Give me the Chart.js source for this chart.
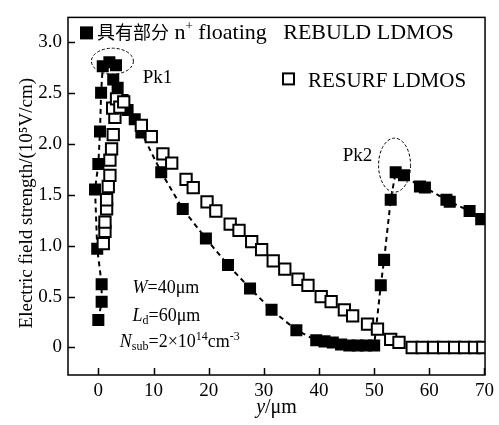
<!DOCTYPE html>
<html>
<head>
<meta charset="utf-8">
<script src="https://cdn.jsdelivr.net/npm/chart.js@4/dist/chart.umd.min.js"></script>
<style>
  html, body { margin: 0; padding: 0; background: #fff; }
</style>
</head>
<body>
<canvas id="fieldChart" width="499" height="425"></canvas>
<script>
// n+ floating REBULD LDMOS (filled squares, dashed line)
const floatX = [0.0, 0.6, 0.6, -0.2, -0.6, 0.0, 0.3, 0.5, 0.8, 2.0, 3.2, 2.7, 3.5, 4.4, 5.3, 6.6, 7.8, 11.4, 15.3, 19.5, 23.5, 27.5, 31.4, 35.9, 39.5, 41.0, 42.5, 44.0, 45.5, 47.0, 48.5, 50.0, 51.2, 51.8, 53.0, 53.9, 55.4, 58.3, 59.2, 63.1, 63.7, 67.3, 69.4];
const floatY = [0.27, 0.45, 0.62, 0.97, 1.55, 1.80, 2.12, 2.50, 2.76, 2.80, 2.77, 2.63, 2.55, 2.43, 2.33, 2.24, 2.11, 1.72, 1.36, 1.07, 0.81, 0.58, 0.37, 0.17, 0.07, 0.06, 0.05, 0.03, 0.02, 0.02, 0.02, 0.02, 0.61, 0.86, 1.45, 1.72, 1.69, 1.58, 1.57, 1.45, 1.43, 1.34, 1.26];

// RESURF LDMOS (open squares)
const resurfX = [0.9, 1.2, 1.2, 1.5, 1.5, 1.8, 2.1, 2.1, 2.4, 2.7, 3.0, 2.6, 3.3, 3.9, 4.6, 7.8, 9.6, 11.7, 13.3, 15.9, 17.2, 19.7, 21.3, 23.9, 25.5, 27.8, 29.6, 31.7, 33.8, 36.2, 38.0, 40.4, 42.2, 44.6, 46.1, 48.8, 50.6, 53.0, 54.5, 56.9, 58.7, 60.8, 62.6, 64.6, 66.4, 68.2, 69.7];
const resurfY = [1.02, 1.14, 1.23, 1.36, 1.45, 1.58, 1.69, 1.84, 1.95, 2.09, 2.26, 2.35, 2.44, 2.36, 2.41, 2.18, 2.07, 1.90, 1.81, 1.65, 1.57, 1.43, 1.34, 1.21, 1.15, 1.04, 0.96, 0.85, 0.77, 0.67, 0.61, 0.50, 0.45, 0.37, 0.31, 0.23, 0.18, 0.08, 0.05, 0.0, 0.0, 0.0, 0.0, 0.0, 0.0, 0.0, 0.0];

const xTicks = [0, 10, 20, 30, 40, 50, 60, 70];
const yTicks = [0, 0.5, 1.0, 1.5, 2.0, 2.5, 3.0];

const serif = '"Liberation Serif", "Times New Roman", serif';
const cjk = '"Noto Sans CJK SC", sans-serif';

const toPoints = (xs, ys) => xs.map((x, i) => ({ x, y: ys[i] }));

// draw a row of text pieces, each with its own font and vertical shift
function drawRuns(ctx, x, y, runs) {
  let cx = x;
  runs.forEach((r) => {
    ctx.font = r.font;
    ctx.fillText(r.t, cx, y + (r.dy || 0));
    cx += ctx.measureText(r.t).width;
  });
  return cx;
}

function runsWidth(ctx, runs) {
  let w = 0;
  runs.forEach((r) => {
    ctx.font = r.font;
    w += ctx.measureText(r.t).width;
  });
  return w;
}

const decor = {
  id: "decor",
  afterDraw(chart) {
    const { ctx, chartArea: a } = chart;
    const xs = chart.scales.x;
    const ys = chart.scales.y;
    ctx.save();
    ctx.strokeStyle = "#000";
    ctx.fillStyle = "#000";

    // frame and inner ticks
    ctx.lineWidth = 1.5;
    ctx.strokeRect(a.left, a.top, a.right - a.left, a.bottom - a.top);
    ctx.beginPath();
    xTicks.forEach((v) => {
      const px = Math.round(xs.getPixelForValue(v)) + 0.5;
      ctx.moveTo(px, a.bottom);
      ctx.lineTo(px, a.bottom - 7);
    });
    yTicks.forEach((v) => {
      const py = Math.round(ys.getPixelForValue(v)) + 0.5;
      ctx.moveTo(a.left, py);
      ctx.lineTo(a.left + 7, py);
    });
    ctx.stroke();

    // dashed ellipses round the two peaks
    ctx.lineWidth = 1;
    ctx.setLineDash([3, 2]);
    [[2.55, 2.81, 21, 13], [53.7, 1.79, 16, 27]].forEach(([vx, vy, rx, ry]) => {
      ctx.beginPath();
      ctx.ellipse(xs.getPixelForValue(vx), ys.getPixelForValue(vy), rx, ry, 0, 0, Math.PI * 2);
      ctx.stroke();
    });
    ctx.setLineDash([]);

    ctx.textBaseline = "alphabetic";
    ctx.textAlign = "left";
    const f = (size, style) => `${style || ""} ${size}px ${serif}`;

    drawRuns(ctx, xs.getPixelForValue(8.05), ys.getPixelForValue(2.6), [{ t: "Pk1", font: f(19) }]);
    drawRuns(ctx, xs.getPixelForValue(44.3), ys.getPixelForValue(1.83), [{ t: "Pk2", font: f(19) }]);

    // device parameters
    drawRuns(ctx, xs.getPixelForValue(6.2), ys.getPixelForValue(0.53), [
      { t: "W", font: f(18, "italic") },
      { t: "=40\u03bcm", font: f(18) },
    ]);
    drawRuns(ctx, xs.getPixelForValue(6.2), ys.getPixelForValue(0.26), [
      { t: "L", font: f(18, "italic") },
      { t: "d", font: f(12), dy: 3 },
      { t: "=60\u03bcm", font: f(18) },
    ]);
    drawRuns(ctx, xs.getPixelForValue(3.9), ys.getPixelForValue(0.0), [
      { t: "N", font: f(18, "italic") },
      { t: "sub", font: f(12), dy: 3 },
      { t: "=2\u00d710", font: f(18) },
      { t: "14", font: f(12), dy: -7 },
      { t: "cm", font: f(18) },
      { t: "-3", font: f(12), dy: -7 },
    ]);

    // legend entries inside the plot
    ctx.fillRect(a.left + 12, a.top + 9, 13, 13);
    drawRuns(ctx, a.left + 29, a.top + 22, [
      { t: "具有部分", font: `18px ${cjk}` },
      { t: " n", font: f(22) },
      { t: "+", font: f(13), dy: -9 },
      { t: " floating   REBULD LDMOS", font: f(22) },
    ]);
    ctx.lineWidth = 2;
    ctx.strokeRect(a.left + 215, a.top + 56, 11, 11);
    drawRuns(ctx, a.left + 240, a.top + 70, [{ t: "RESURF LDMOS", font: f(21) }]);

    // x axis title with italic y
    const title = [
      { t: "y", font: f(20, "italic") },
      { t: "/\u03bcm", font: f(20) },
    ];
    const tw = runsWidth(ctx, title);
    drawRuns(ctx, (a.left + a.right) / 2 - tw / 2, a.bottom + 38, title);

    // y axis title, rotated
    ctx.translate(27, (a.top + a.bottom) / 2 + 7);
    ctx.rotate(-Math.PI / 2);
    ctx.textAlign = "center";
    ctx.textBaseline = "middle";
    ctx.font = f(19);
    ctx.fillText("Electric field strength/(10\u2075V/cm)", 0, 0);

    ctx.restore();
  },
};

new Chart(document.getElementById("fieldChart"), {
  type: "scatter",
  data: {
    datasets: [
      {
        label: "具有部分 n+ floating REBULD LDMOS",
        data: toPoints(floatX, floatY),
        showLine: true,
        borderColor: "#000",
        borderWidth: 2,
        borderDash: [5, 4],
        pointStyle: "rect",
        pointRadius: 8.5,
        pointBackgroundColor: "#000",
        pointBorderWidth: 0,
        clip: 0,
        order: 1,
      },
      {
        label: "RESURF LDMOS",
        data: toPoints(resurfX, resurfY),
        showLine: false,
        pointStyle: "rect",
        pointRadius: 8,
        pointBackgroundColor: "#fff",
        pointBorderColor: "#000",
        pointBorderWidth: 2,
        clip: 0,
        order: 0,
      },
    ],
  },
  options: {
    responsive: false,
    animation: false,
    layout: { padding: { top: 8, right: 10, left: 0, bottom: 0 } },
    plugins: {
      legend: { display: false },
      tooltip: { enabled: false },
    },
    scales: {
      x: {
        type: "linear",
        min: -5.5,
        max: 70.1,
        grid: { display: false, drawTicks: false },
        border: { display: false },
        afterBuildTicks: (s) => {
          s.ticks = xTicks.map((v) => ({ value: v }));
        },
        afterFit: (s) => {
          s.height = 50;
        },
        ticks: {
          color: "#000",
          padding: 5,
          maxRotation: 0,
          font: { family: serif, size: 19 },
          callback: (v) => String(v),
        },
      },
      y: {
        type: "linear",
        min: -0.27,
        max: 3.24,
        grid: { display: false, drawTicks: false },
        border: { display: false },
        afterBuildTicks: (s) => {
          s.ticks = yTicks.map((v) => ({ value: v }));
        },
        afterFit: (s) => {
          s.width = 68;
        },
        ticks: {
          color: "#000",
          padding: 6,
          font: { family: serif, size: 19 },
          callback: (v) => (v === 0 ? "0" : v.toFixed(1)),
        },
      },
    },
  },
  plugins: [decor],
});
</script>
</body>
</html>
